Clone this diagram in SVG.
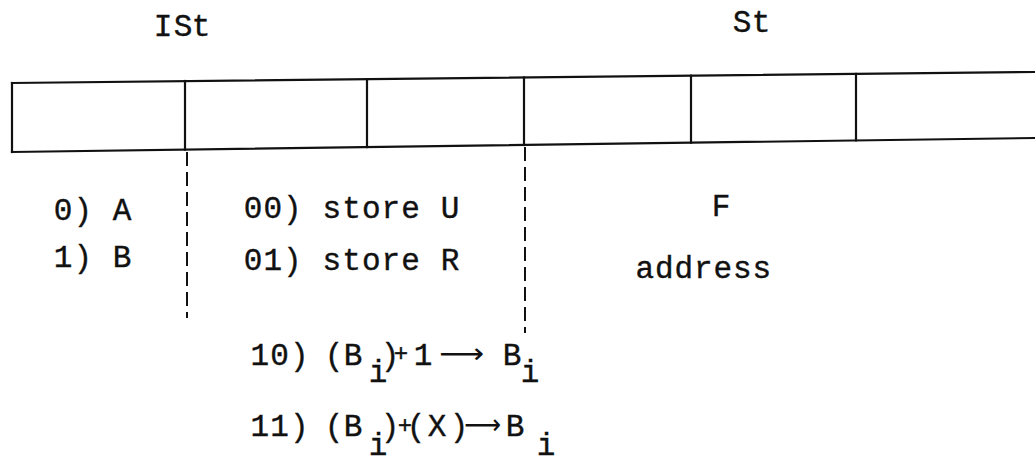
<svg xmlns="http://www.w3.org/2000/svg" width="1035" height="456" viewBox="0 0 1035 456">
<style>
.t{font-family:"Liberation Mono","DejaVu Sans Mono",monospace;font-size:31px;text-anchor:middle;fill:#111;stroke:#111;stroke-width:0.4}
.s{font-size:24px}
.ar{font-family:"DejaVu Sans",sans-serif;font-size:28px;fill:#111}
.ln{stroke:#111;stroke-width:2.2;fill:none;stroke-linecap:square}
.dash{stroke:#111;stroke-width:2;fill:none;stroke-dasharray:14 6}
</style>
<rect width="1035" height="456" fill="#fff"/>
<g id="register">
<line class="ln" x1="12" y1="83" x2="1035" y2="72"/>
<line class="ln" x1="12" y1="152" x2="1035" y2="138"/>
<line class="ln" x1="12" y1="83" x2="12" y2="152"/>
<line class="ln" x1="185" y1="81" x2="185" y2="149.6"/>
<line class="ln" x1="367" y1="79.2" x2="367" y2="147.1"/>
<line class="ln" x1="524" y1="77.5" x2="524" y2="145"/>
<line class="ln" x1="691" y1="75.7" x2="691" y2="142.7"/>
<line class="ln" x1="856" y1="73.9" x2="856" y2="140.4"/>
</g>
<g id="connectors">
<line class="dash" x1="187" y1="152" x2="187" y2="318"/>
<line class="dash" x1="525" y1="147" x2="525" y2="333"/>
</g>
<g id="labels">
<text class="t" x="163 183 201" y="36">ISt</text>
<text class="t" x="742 761" y="32">St</text>
</g>
<g id="field-ist">
<text class="t" x="63 82.7 102.4 122.1" y="220">0) A</text>
<text class="t" x="63 82.7 102.4 122.1" y="267">1) B</text>
</g>
<g id="field-op">
<text class="t" x="253 272.7 292.4 312.1 331.8 351.5 371.2 390.9 410.6 430.3 450" y="218">00) store U</text>
<text class="t" x="253 272.7 292.4 312.1 331.8 351.5 371.2 390.9 410.6 430.3 450" y="270">01) store R</text>
<text class="t" x="259.8 279.5 299.2" y="365">10)</text>
<text class="t" x="334 353" y="365">(B</text>
<text class="t" x="378" y="382">i</text>
<text class="t" x="390" y="365">)</text>
<text class="t s" x="401" y="361">+</text>
<text class="t" x="423" y="365">1</text>
<text class="ar" x="439" y="363" textLength="45" lengthAdjust="spacingAndGlyphs">⟶</text>
<text class="t" x="512" y="365">B</text>
<text class="t" x="530" y="382">i</text>
<text class="t" x="259.8 279.5 299.2" y="436">11)</text>
<text class="t" x="334 353" y="436">(B</text>
<text class="t" x="378" y="455">i</text>
<text class="t" x="390" y="436">)</text>
<text class="t s" x="405" y="433">+</text>
<text class="t" x="416 437 459" y="436">(X)</text>
<text class="ar" x="464" y="434" textLength="37" lengthAdjust="spacingAndGlyphs">⟶</text>
<text class="t" x="515" y="436">B</text>
<text class="t" x="546" y="455">i</text>
</g>
<g id="field-st">
<text class="t" x="721" y="216">F</text>
<text class="t" x="644.7 664.2 683.7 703.2 722.7 742.2 761.7" y="278">address</text>
</g>
</svg>
